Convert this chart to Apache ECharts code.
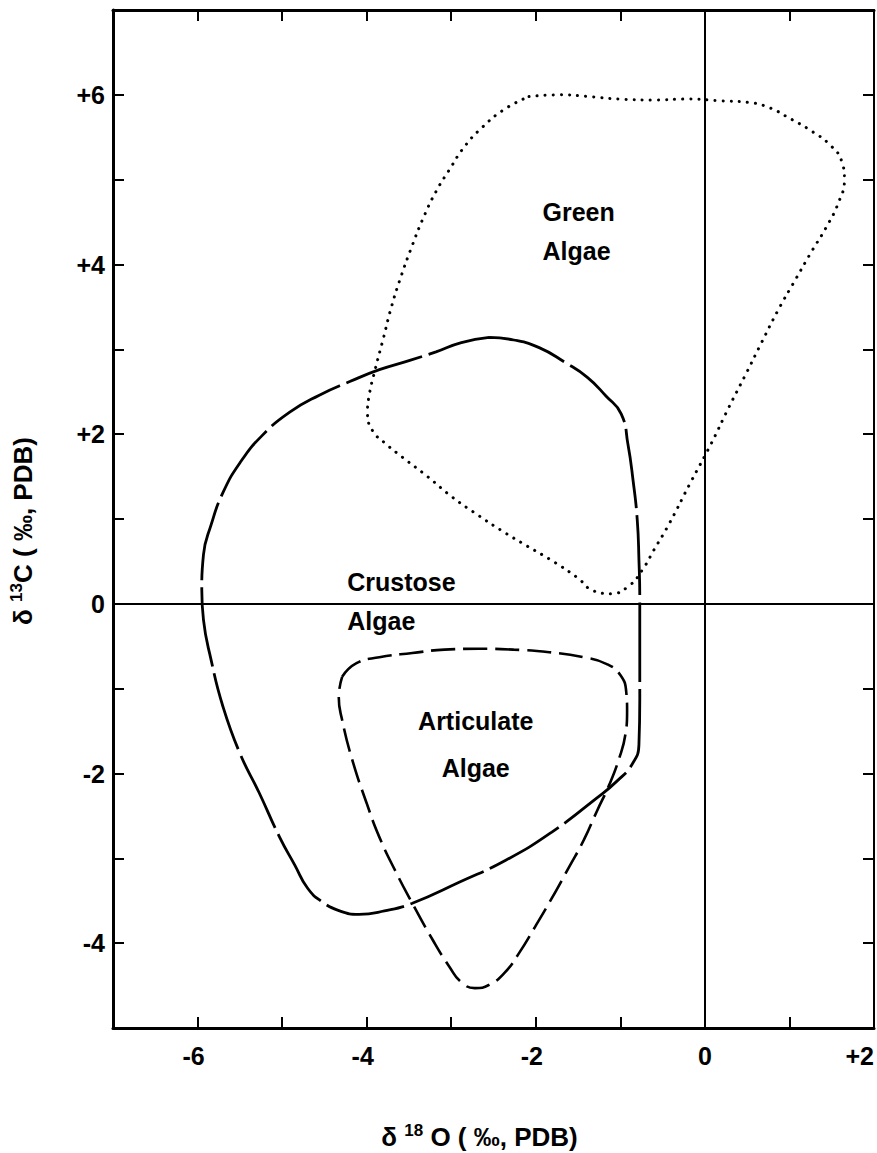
<!DOCTYPE html>
<html><head><meta charset="utf-8">
<script src="https://cdn.jsdelivr.net/npm/echarts@6/dist/echarts.min.js"></script>
<style>html,body{margin:0;padding:0;background:#fff;overflow:hidden}#c{width:877px;height:1153px}</style>
</head><body><div id="c"></div>
<script>
// ---- data (δ18O, δ13C) ----
const greenAlgae = [[-2.08,5.98],[-1.72,6.00],[-1.37,5.98],[-1.02,5.95],[-0.60,5.94],[-0.19,5.95],[0.17,5.93],[0.52,5.91],[0.76,5.85],[0.99,5.73],[1.25,5.58],[1.49,5.40],[1.62,5.21],[1.65,5.00],[1.58,4.73],[1.43,4.43],[1.26,4.15],[1.07,3.82],[0.87,3.47],[0.67,3.08],[0.48,2.70],[0.28,2.31],[0.07,1.88],[-0.17,1.43],[-0.43,0.93],[-0.60,0.64],[-0.74,0.40],[-0.90,0.21],[-1.11,0.12],[-1.31,0.15],[-1.51,0.31],[-1.81,0.51],[-2.10,0.68],[-2.40,0.86],[-2.69,1.05],[-2.99,1.26],[-3.28,1.50],[-3.58,1.73],[-3.79,1.90],[-3.93,2.04],[-3.99,2.25],[-3.97,2.46],[-3.90,2.76],[-3.80,3.14],[-3.71,3.49],[-3.60,3.84],[-3.47,4.20],[-3.33,4.55],[-3.18,4.86],[-3.02,5.12],[-2.85,5.38],[-2.64,5.61],[-2.37,5.83],[-2.08,5.98]];
const crustoseAlgae = [[-2.55,3.14],[-2.26,3.11],[-1.96,3.02],[-1.66,2.85],[-1.39,2.67],[-1.17,2.45],[-0.99,2.24],[-0.91,1.88],[-0.85,1.46],[-0.80,0.99],[-0.78,0.52],[-0.77,0.05],[-0.77,-0.54],[-0.77,-1.13],[-0.78,-1.66],[-0.86,-1.89],[-1.04,-2.09],[-1.28,-2.29],[-1.81,-2.69],[-2.35,-3.02],[-2.90,-3.28],[-3.46,-3.53],[-3.79,-3.62],[-4.09,-3.66],[-4.32,-3.62],[-4.53,-3.51],[-4.70,-3.35],[-4.85,-3.08],[-5.03,-2.75],[-5.27,-2.23],[-5.50,-1.76],[-5.70,-1.21],[-5.84,-0.66],[-5.93,-0.19],[-5.95,0.17],[-5.93,0.58],[-5.84,0.93],[-5.70,1.31],[-5.50,1.66],[-5.24,1.98],[-4.91,2.26],[-4.56,2.46],[-4.20,2.62],[-3.85,2.76],[-3.49,2.87],[-3.18,2.97],[-2.88,3.08],[-2.55,3.14]];
const articulateAlgae = [[-4.29,-0.86],[-4.12,-0.70],[-3.85,-0.63],[-3.46,-0.58],[-3.08,-0.54],[-2.67,-0.53],[-2.26,-0.54],[-1.84,-0.57],[-1.43,-0.63],[-1.16,-0.71],[-1.00,-0.84],[-0.93,-1.04],[-0.92,-1.27],[-0.94,-1.54],[-1.02,-1.84],[-1.13,-2.13],[-1.28,-2.45],[-1.43,-2.78],[-1.61,-3.11],[-1.81,-3.47],[-2.01,-3.81],[-2.20,-4.12],[-2.37,-4.35],[-2.55,-4.49],[-2.72,-4.53],[-2.88,-4.46],[-3.02,-4.28],[-3.22,-3.96],[-3.46,-3.53],[-3.65,-3.17],[-3.85,-2.75],[-4.00,-2.35],[-4.17,-1.84],[-4.29,-1.37],[-4.33,-1.10],[-4.29,-0.86]];

const xTickValues = [-6, -4, -2, 0, 2];
const xTickLabels = ['-6', '-4', '-2', '0', '+2'];
const yTickValues = [-4, -2, 0, 2, 4, 6];
const yTickLabels = ['-4', '-2', '0', '+2', '+4', '+6'];

const regionNames = ['Green\nAlgae', 'Crustose\nAlgae', 'Articulate\nAlgae'];
const regionX = [-1.92, -4.23, -2.71];
const regionY = [4.39, 0.03, -1.66];

const FONT = 'Liberation Sans';

function xLabel(v) {
  const i = xTickValues.indexOf(Math.round(v * 1000) / 1000);
  if (i < 0) return '';
  const t = xTickLabels[i];
  if (t[0] === '-') return '{m|' + t + '}';
  return '{n|' + t + '}';
}
function yLabel(v) {
  const i = yTickValues.indexOf(Math.round(v * 1000) / 1000);
  return i < 0 ? '' : yTickLabels[i];
}

const tickStyle = {fontSize: 25, fontFamily: FONT, fontWeight: 'bold', color: '#000'};
const chart = echarts.init(document.getElementById('c'), null, {renderer: 'svg'});

const axisCommon = {
  type: 'value', splitLine: {show: false},
  axisTick: {show: true, inside: true, length: 11, lineStyle: {color: '#000', width: 2}},
  axisLine: {show: true, onZero: false, lineStyle: {color: '#000', width: 3}}
};
const titleRich = {
  a: {fontSize: 26, fontFamily: FONT, fontWeight: 'bold', color: '#000', lineHeight: 30},
  b: {fontSize: 17, fontFamily: FONT, fontWeight: 'bold', color: '#000', verticalAlign: 'top', lineHeight: 17}
};
const annotStyle = {fontSize: 25, fontFamily: FONT, fontWeight: 'bold', color: '#000',
  textBorderWidth: 0, opacity: 1};

chart.setOption({
  animation: false,
  backgroundColor: '#fff',
  grid: {left: 113, right: 3, top: 10, bottom: 125, containLabel: false, outerBoundsMode: 'none'},
  xAxis: [
    Object.assign({}, axisCommon, {
      position: 'bottom', min: -7, max: 2, interval: 1,
      axisLabel: {show: true, margin: 15, formatter: xLabel, alignMaxLabel: 'right',
        rich: {
          m: Object.assign({}, tickStyle, {padding: [0, 8, 0, 0]}),
          n: Object.assign({}, tickStyle)
        }},
      name: '{a|δ }{b|18}{a| O ( ‰, PDB)}',
      nameLocation: 'middle', nameGap: 94,
      nameTextStyle: {rich: titleRich, padding: [0, 28, 0, 0]}
    }),
    Object.assign({}, axisCommon, {
      position: 'top', min: -7, max: 2, interval: 1,
      axisLabel: {show: false}
    })
  ],
  yAxis: [
    Object.assign({}, axisCommon, {
      position: 'left', min: -5, max: 7, interval: 1,
      axisLabel: Object.assign({show: true, margin: 8, formatter: yLabel}, tickStyle),
      name: '{a|δ }{b|13}{a|C ( ‰, PDB)}',
      nameLocation: 'middle', nameGap: 75, nameRotate: 90,
      nameTextStyle: {rich: titleRich, padding: [0, 24, 0, 0]}
    }),
    Object.assign({}, axisCommon, {
      position: 'right', min: -5, max: 7, interval: 1,
      axisLabel: {show: false},
      axisLine: {show: true, onZero: false, lineStyle: {color: '#000', width: 2}}
    })
  ],
  series: [
    {
      name: 'Green Algae', type: 'line', data: greenAlgae, smooth: 0.5,
      symbol: 'none', silent: true,
      lineStyle: {color: '#000', width: 3, type: [0.1, 8], cap: 'round'},
      markLine: {
        silent: true, symbol: 'none', label: {show: false},
        lineStyle: {color: '#000', width: 2, type: 'solid'},
        data: [{xAxis: 0}, {yAxis: 0}]
      }
    },
    {
      name: 'Crustose Algae', type: 'line', data: crustoseAlgae, smooth: 0.5,
      symbol: 'none', silent: true,
      lineStyle: {color: '#000', width: 2.8, type: [80, 7]}
    },
    {
      name: 'Articulate Algae', type: 'line', data: articulateAlgae, smooth: 0.5,
      symbol: 'none', silent: true,
      lineStyle: {color: '#000', width: 2.6, type: [24, 8]}
    },
    {
      name: 'labels', type: 'scatter', symbolSize: 0, silent: true,
      itemStyle: {color: '#000'},
      label: Object.assign({show: true, formatter: '{b}'}, annotStyle),
      data: regionNames.map((n, i) => ({
        value: [regionX[i], regionY[i]], name: n,
        label: Object.assign({
          position: i === 2 ? 'inside' : 'right', distance: 0,
          align: i === 2 ? 'center' : 'left',
          lineHeight: i === 2 ? 47 : 39
        }, annotStyle)
      }))
    }
  ]
});
</script>
</body></html>
